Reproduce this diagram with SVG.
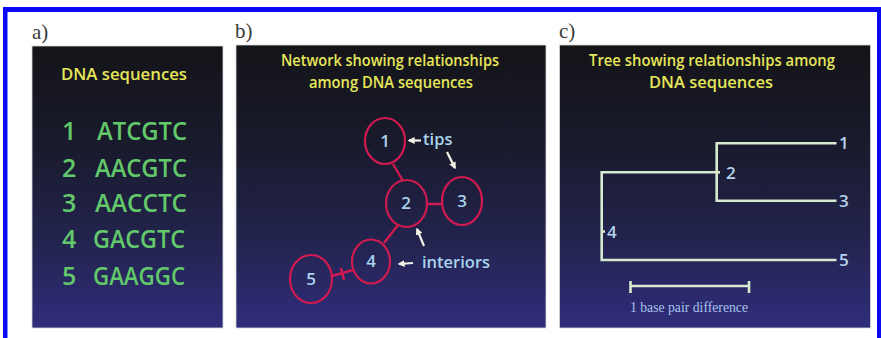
<svg xmlns="http://www.w3.org/2000/svg" width="881" height="338" viewBox="0 0 881 338">
<defs>
<linearGradient id="bg" x1="0" y1="0" x2="0" y2="1">
<stop offset="0" stop-color="#141418"/>
<stop offset="0.35" stop-color="#191a2c"/>
<stop offset="0.7" stop-color="#23244f"/>
<stop offset="1" stop-color="#302d7c"/>
</linearGradient>
<marker id="ah" viewBox="0 0 10 10" refX="8" refY="5" markerWidth="3.2" markerHeight="3.2" orient="auto">
<path d="M0,0 L10,5 L0,10 z" fill="#f2f2e6"/>
</marker>
<style>
.panel{fill:url(#bg);stroke:#d8d8dc;stroke-width:0.8}
.lbl{font-family:"Liberation Serif",serif;font-size:21px;fill:#3a3a3a}
.ttl{font-family:"Open Sans","DejaVu Sans",sans-serif;font-size:17px;fill:#e6e65a;text-anchor:middle;font-weight:600}
.seq{font-family:"Open Sans","DejaVu Sans",sans-serif;font-size:25px;fill:#62c86a;font-weight:600}
.node{fill:none;stroke:#d01a50;stroke-width:2.2}
.edge{stroke:#d01a50;stroke-width:2.4;fill:none}
.nt{font-family:"Open Sans","DejaVu Sans",sans-serif;font-size:17px;fill:#a8d4ee;text-anchor:middle;font-weight:600}
.ann{font-family:"Open Sans","DejaVu Sans",sans-serif;font-size:16.5px;fill:#a8d4ee;font-weight:600}
.arr{stroke:#f2f2e6;stroke-width:2.2;fill:none;marker-end:url(#ah)}
.br{stroke:#d6ead0;stroke-width:2.6;fill:none}
.tl{font-family:"Open Sans","DejaVu Sans",sans-serif;font-size:17px;fill:#b6d4ee;font-weight:600}
.sc{font-family:"Liberation Serif",serif;font-size:15px;fill:#a8c4f0}
</style>
</defs>
<rect x="0" y="0" width="881" height="338" fill="#ffffff"/>
<g id="frame" fill="#0a0af5">
<rect x="3" y="7" width="875" height="5"/>
<rect x="3" y="7" width="4.5" height="331"/>
<rect x="877" y="7" width="4" height="331"/>
</g>

<g id="panel-a">
<text class="lbl" x="32" y="39">a)</text>
<rect class="panel" x="32" y="46" width="191" height="282"/>
<text class="ttl" x="124" y="80" font-size="20" textLength="126" lengthAdjust="spacingAndGlyphs">DNA sequences</text>
<g class="seq">
<text x="62" y="140">1</text><text x="97" y="140" textLength="90" lengthAdjust="spacingAndGlyphs">ATCGTC</text>
<text x="62" y="177">2</text><text x="95" y="177" textLength="92" lengthAdjust="spacingAndGlyphs">AACGTC</text>
<text x="62" y="212">3</text><text x="95" y="212" textLength="92" lengthAdjust="spacingAndGlyphs">AACCTC</text>
<text x="62" y="248">4</text><text x="93" y="248" textLength="92" lengthAdjust="spacingAndGlyphs">GACGTC</text>
<text x="62" y="285">5</text><text x="93" y="285" textLength="92" lengthAdjust="spacingAndGlyphs">GAAGGC</text>
</g>
</g>

<g id="panel-b">
<text class="lbl" x="235" y="38">b)</text>
<rect class="panel" x="236" y="45" width="310" height="283"/>
<text class="ttl" x="390" y="66" textLength="218" lengthAdjust="spacingAndGlyphs">Network showing relationships</text>
<text class="ttl" x="391" y="88" textLength="164" lengthAdjust="spacingAndGlyphs">among DNA  sequences</text>
</g>

<g id="connectors">
<line class="edge" x1="393" y1="164" x2="403" y2="181"/>
<line class="edge" x1="427" y1="204" x2="442" y2="204"/>
<line class="edge" x1="398" y1="225" x2="384" y2="243"/>
<line class="edge" x1="332" y1="276" x2="353" y2="270"/>
<line class="edge" x1="341" y1="268" x2="344" y2="280"/>
<line class="arr" x1="421" y1="140.5" x2="409" y2="140.5"/>
<line class="arr" x1="447" y1="152" x2="455" y2="168"/>
<line class="arr" x1="424" y1="246" x2="417" y2="229"/>
<line class="arr" x1="413" y1="263" x2="399" y2="264"/>
</g>

<g id="node-1"><ellipse class="node" cx="385" cy="141" rx="20" ry="23"/><text class="nt" x="385" y="147">1</text></g>
<g id="node-2"><ellipse class="node" cx="406.5" cy="203.5" rx="20.5" ry="23.5"/><text class="nt" x="406" y="209">2</text></g>
<g id="node-3"><ellipse class="node" cx="462" cy="201" rx="20" ry="24"/><text class="nt" x="462" y="207">3</text></g>
<g id="node-4"><ellipse class="node" cx="371" cy="261.5" rx="19" ry="22"/><text class="nt" x="371" y="267">4</text></g>
<g id="node-5"><ellipse class="node" cx="311" cy="279" rx="21" ry="24"/><text class="nt" x="311" y="285">5</text></g>
<g id="labels-b">
<text class="ann" x="423" y="145">tips</text>
<text class="ann" x="422" y="268">interiors</text>
</g>

<g id="panel-c">
<text class="lbl" x="559" y="38">c)</text>
<rect class="panel" x="559.5" y="45" width="311" height="283"/>
<text class="ttl" x="712" y="66" textLength="246" lengthAdjust="spacingAndGlyphs">Tree showing relationships among</text>
<text class="ttl" x="711" y="88" textLength="124" lengthAdjust="spacingAndGlyphs">DNA  sequences</text>
<g id="tree">
<path class="br" d="M836.5,143.3 H716.7 V200.7 H836.5"/>
<path class="br" d="M716.7,172.3 H601.7 V260 H836.5"/>
<line class="br" x1="716" y1="172.3" x2="720" y2="172.3"/>
<line class="br" x1="601" y1="231.5" x2="605" y2="231.5"/>
<line class="br" stroke-width="2.2" x1="630" y1="286" x2="749" y2="286"/>
<line class="br" stroke-width="2" x1="630.5" y1="281" x2="630.5" y2="293"/>
<line class="br" stroke-width="2" x1="749" y1="281" x2="749" y2="293"/>
</g>
<text class="tl" x="839" y="149">1</text>
<text class="tl" x="726" y="179">2</text>
<text class="tl" x="839" y="207">3</text>
<text class="tl" x="607" y="238">4</text>
<text class="tl" x="839" y="266">5</text>
<text class="sc" x="630" y="312" textLength="118" lengthAdjust="spacingAndGlyphs">1 base pair difference</text>
</g>
</svg>
